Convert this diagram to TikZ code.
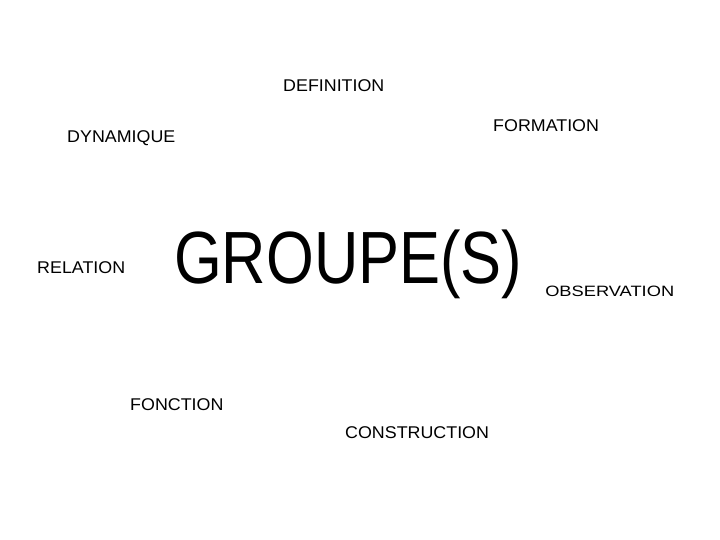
\documentclass[tikz,border=0pt]{standalone}
\usepackage{fontspec}
\setmainfont{Liberation Sans}
\tikzset{
  lbl/.style={anchor=base west, inner sep=0pt, font=\fontsize{17}{20}\selectfont, xscale=1.05},
  big/.style={anchor=base west, inner sep=0pt, font=\fontsize{74}{80}\selectfont, xscale=0.83},
}
\begin{document}
\begin{tikzpicture}[x=1pt,y=-1pt]
\useasboundingbox[fill=white] (0,0) rectangle (720,540);
\node[lbl] (def) at (283,92) {DEFINITION};
\node[lbl] (form) at (493,132) {FORMATION};
\node[lbl] (dyn) at (67,143) {DYNAMIQUE};
\node[lbl] (rel) at (37,273) {RELATION};
\node[big] (grp) at (174,283) {GROUPE(S)};
\node[lbl, font=\fontsize{15}{18}\selectfont, xscale=1.16] (obs) at (545,296) {OBSERVATION};
\node[lbl] (fon) at (130,410) {FONCTION};
\node[lbl] (con) at (345,438) {CONSTRUCTION};
\end{tikzpicture}
\end{document}
